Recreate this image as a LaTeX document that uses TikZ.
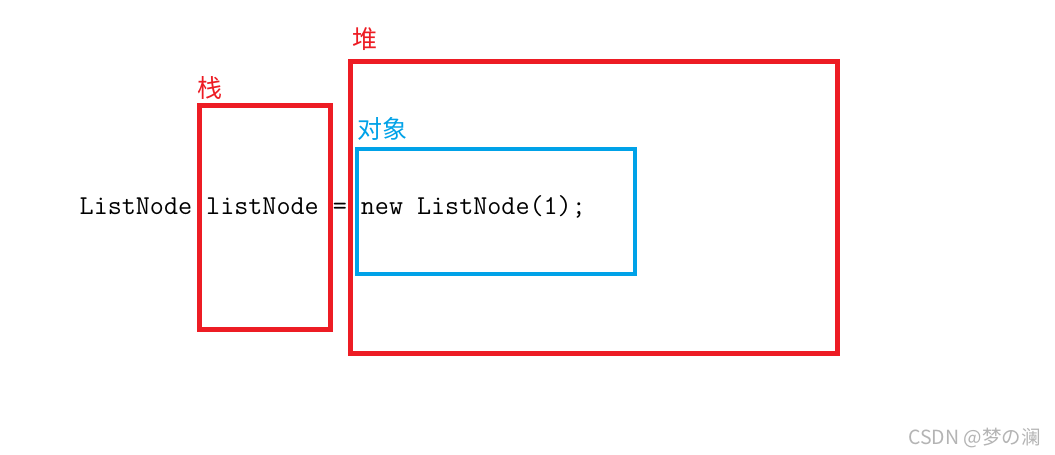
\documentclass[tikz,border=0pt]{standalone}
\usepackage{fontspec}
\newfontfamily\cjk{Noto Sans CJK SC}
\definecolor{pred}{HTML}{ED1C24}
\definecolor{pblue}{HTML}{00A2E8}
\definecolor{wmgray}{HTML}{B4B4B4}
\tikzset{
  redbox/.style={draw=pred, line width=5pt},
  bluebox/.style={draw=pblue, line width=4.6pt},
  cjklabel/.style={inner sep=0pt, anchor=base west, font=\cjk\fontsize{25}{28}\selectfont},
  code/.style={inner sep=0pt, anchor=base west, font=\ttfamily\fontsize{27.3}{30}\selectfont}
}
\begin{document}
\begin{tikzpicture}[x=1pt,y=-1pt]
\useasboundingbox (0,0) rectangle (1055,455);
\fill[white] (0,0) rectangle (1055,455);
% boxes
\draw[redbox] (199,105.5) rectangle (330,329);
\draw[redbox] (350.5,61) rectangle (837,353);
\draw[bluebox] (357,149) rectangle (635,274);
% labels
\node[cjklabel, text=pred] (zhan) at (197,97) {栈};
\node[cjklabel, text=pred] (dui) at (352,48.5) {堆};
\node[cjklabel, text=pblue] (duixiang) at (357,138) {对象};
% code
\node[code] (line) at (79.5,214) {ListNode listNode = new ListNode(1);};
% watermark
\node[inner sep=0pt, anchor=base east, text=wmgray, font=\cjk\fontsize{19.5}{22}\selectfont] (wm) at (1041,444) {CSDN @梦の澜};
\end{tikzpicture}
\end{document}
